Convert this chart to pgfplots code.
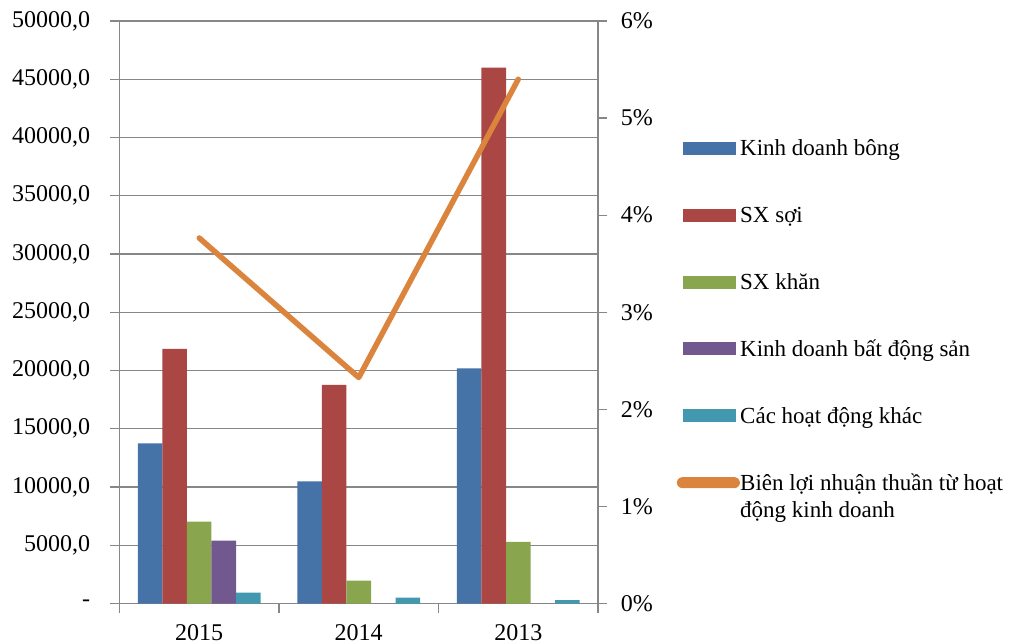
\documentclass[border=0pt]{standalone}
\usepackage{fontspec}
\setmainfont{Liberation Serif}
\usepackage{pgfplots}
\pgfplotsset{compat=1.18}

\definecolor{cBlue}{HTML}{4572A7}
\definecolor{cRed}{HTML}{AA4643}
\definecolor{cGreen}{HTML}{89A54E}
\definecolor{cPurple}{HTML}{71588F}
\definecolor{cCyan}{HTML}{4198AF}
\definecolor{cOrange}{HTML}{DB843D}
\definecolor{axgray}{HTML}{878787}

\pgfplotsset{
  base/.style={
    scale only axis, width=239.25pt, height=291.25pt,
    xmin=-0.5, xmax=2.5,
    scaled y ticks=false,
    tick align=outside, major tick length=4.5pt,
    tick style={draw=axgray, line width=0.6pt},
    axis line style={draw=axgray, line width=0.6pt, -},
    tick label style={font=\fontsize{12}{14.4}\selectfont},
    /pgf/number format/assume math mode=true,
  },
}

\begin{document}
\fontsize{12}{14.4}\selectfont
\begin{tikzpicture}
\begin{axis}[base,
  ymin=0, ymax=50000,
  axis x line*=bottom, axis y line*=left,
  xtick={-0.5,0.5,1.5,2.5}, xticklabels={2015,2014,2013},
  x tick label as interval,
  xticklabel style={yshift=-2pt},
  yticklabel style={xshift=-6pt},
  ytick={0,5000,10000,15000,20000,25000,30000,35000,40000,45000,50000},
  yticklabels={{-},{5000,0},{10000,0},{15000,0},{20000,0},{25000,0},{30000,0},{35000,0},{40000,0},{45000,0},{50000,0}},
  ymajorgrids, grid style={draw=axgray, line width=0.6pt},
  ybar=0pt, bar width=12.25pt,
]
% Kinh doanh bong
\addplot[fill=cBlue, draw=none] coordinates {(0,13750) (1,10490) (2,20180)};
% SX soi
\addplot[fill=cRed, draw=none] coordinates {(0,21850) (1,18760) (2,45990)};
% SX khan
\addplot[fill=cGreen, draw=none] coordinates {(0,7030) (1,1970) (2,5290)};
% Kinh doanh bat dong san
\addplot[fill=cPurple, draw=none] coordinates {(0,5400) (1,0) (2,0)};
% Cac hoat dong khac
\addplot[fill=cCyan, draw=none] coordinates {(0,940) (1,500) (2,300)};
\end{axis}

\begin{axis}[base,
  ymin=0, ymax=0.06,
  axis y line*=right, axis x line=none,
  yticklabel style={xshift=2.75pt},
  ytick={0,0.01,0.02,0.03,0.04,0.05,0.06},
  yticklabels={0\%,1\%,2\%,3\%,4\%,5\%,6\%},
  legend style={draw=none, fill=none, at={(1.1768,0.8022)}, anchor=north west,
    row sep=22pt, column sep=2.2pt, inner sep=0pt, nodes={inner sep=0pt},
    font=\fontsize{11.5}{13.8}\selectfont, cells={anchor=west}},
]
\addlegendimage{legend image code/.code={\fill[cBlue] (0pt,-3pt) rectangle (26pt,3pt);}}
\addlegendentry{\strut Kinh doanh bông}
\addlegendimage{legend image code/.code={\fill[cRed] (0pt,-3pt) rectangle (26pt,3pt);}}
\addlegendentry{\strut SX sợi}
\addlegendimage{legend image code/.code={\fill[cGreen] (0pt,-3pt) rectangle (26pt,3pt);}}
\addlegendentry{\strut SX khăn}
\addlegendimage{legend image code/.code={\fill[cPurple] (0pt,-3pt) rectangle (26pt,3pt);}}
\addlegendentry{\strut Kinh doanh bất động sản}
\addlegendimage{legend image code/.code={\fill[cCyan] (0pt,-3pt) rectangle (26pt,3pt);}}
\addlegendentry{\strut Các hoạt động khác}
\addplot[cOrange, line width=2.75pt, line join=round, line cap=round,
  legend image code/.code={\path[draw=none,fill=none] (0pt,-3pt) rectangle (26pt,3pt);
    \fill[cOrange, rounded corners=1.3pt, overlay] (-1.9pt,-1.375pt) rectangle (26.9pt,1.375pt);}]
  coordinates {(0,0.03765) (1,0.02328) (2,0.0540)};
\addlegendentry{\smash{\rlap{\raisebox{-13.5pt}{động kinh doanh}}}\strut Biên lợi nhuận thuần từ hoạt}
\end{axis}
\pgfresetboundingbox
\path (-59.75pt,-19.75pt) rectangle (447.75pt,301.75pt);
\end{tikzpicture}
\end{document}
